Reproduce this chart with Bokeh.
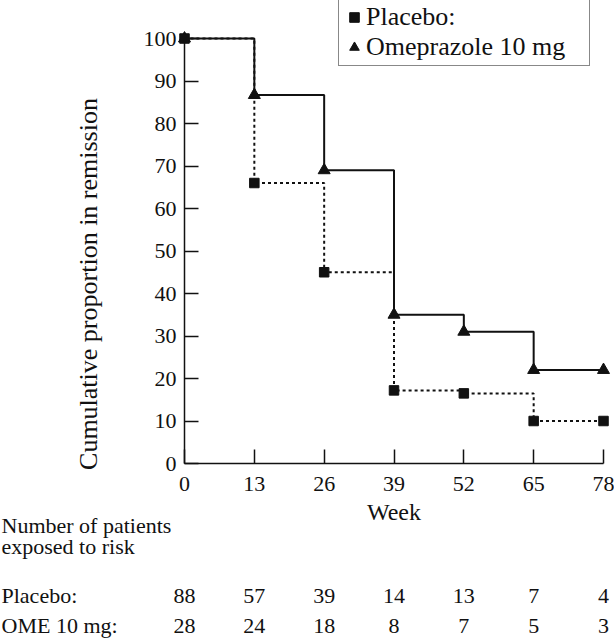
import math
from bokeh.plotting import figure
from bokeh.models import Range1d, FixedTicker, Legend, LegendItem
from bokeh.core.properties import value
from bokeh.embed import file_html
from bokeh.resources import INLINE

# ---------------- data ----------------
weeks = [0, 13, 26, 39, 52, 65, 78]
placebo_pct = [100, 66, 45, 17.2, 16.5, 10, 10]
ome_pct = [100, 86.7, 69, 35, 31, 22, 22]
placebo_risk = [88, 57, 39, 14, 13, 7, 4]
ome_risk = [28, 24, 18, 8, 7, 5, 3]
y_ticks = [0, 10, 20, 30, 40, 50, 60, 70, 80, 90, 100]

series_labels = ["Placebo:", "Omeprazole 10 mg"]
table_title = ["Number of patients", "exposed to risk"]
row_labels = ["Placebo:", "OME 10 mg:"]
x_label = "Week"
y_label = "Cumulative proportion in remission"

# ---------------- layout geometry (canvas pixels) ----------------
W, H = 614, 640
ORIGIN_X, ORIGIN_Y = 184, 463      # canvas position of (week 0, 0 %)
PX_X = 419 / 78                    # pixels per week
PX_Y = 425 / 100                   # pixels per percent
TXT = 8                            # text glyph baseline compensation


def dx(px):
    return (px - ORIGIN_X) / PX_X


def dy(py):
    return (ORIGIN_Y - py) / PX_Y


FONT = "Liberation Serif"
INK = "#111111"

p = figure(width=W, height=H,
           x_range=Range1d(dx(0), dx(W)), y_range=Range1d(dy(H), dy(0)),
           output_backend="svg", toolbar_location=None,
           min_border=0, outline_line_color=None,
           background_fill_color="white", border_fill_color="white")
p.grid.visible = False

# axes drawn at the data origin
p.xaxis.fixed_location = 0
p.yaxis.fixed_location = 0
p.xaxis.bounds = (0, 78)
p.yaxis.bounds = (0, 100)
p.xaxis.ticker = FixedTicker(ticks=weeks)
p.yaxis.ticker = FixedTicker(ticks=y_ticks)
for ax in (p.xaxis, p.yaxis):
    ax.major_tick_in = 14
    ax.major_tick_out = 0
    ax.minor_tick_line_color = None
    ax.axis_line_width = 1.5
    ax.axis_line_color = INK
    ax.major_tick_line_width = 1.5
    ax.major_tick_line_color = INK
    ax.major_label_text_font = FONT
    ax.major_label_text_font_size = "22px"
    ax.major_label_text_color = INK
p.xaxis.major_label_standoff = 13
p.yaxis.major_label_standoff = 8

# survival steps
p.step(weeks, placebo_pct, mode="after", line_color=INK, line_width=2, line_dash="3 3")
p.step(weeks, ome_pct, mode="after", line_color=INK, line_width=2)
tri = p.scatter(weeks, ome_pct, marker="triangle", size=12, color=INK)
sq = p.scatter(weeks, placebo_pct, marker="square", size=9.5, color=INK)

# axis titles
p.text(x=[dx(96 - TXT)], y=[dy(283.5)], text=[y_label], angle=math.pi / 2,
       text_font=value(FONT), text_font_size=value("26px"), text_color=INK,
       text_align="center", text_baseline="alphabetic")
p.text(x=[39], y=[dy(519 - TXT)], text=[x_label],
       text_font=value(FONT), text_font_size=value("24px"), text_color=INK,
       text_align="center", text_baseline="alphabetic")

# number-at-risk table
p.text(x=[dx(1), dx(1)], y=[dy(533 - TXT), dy(554 - TXT)], text=table_title,
       text_font=value(FONT), text_font_size=value("22px"), text_color=INK,
       text_align="left", text_baseline="alphabetic")
p.text(x=[dx(1), dx(1)], y=[dy(603 - TXT), dy(633 - TXT)], text=row_labels,
       text_font=value(FONT), text_font_size=value("22px"), text_color=INK,
       text_align="left", text_baseline="alphabetic")
p.text(x=weeks, y=[dy(603 - TXT)] * len(weeks), text=[str(v) for v in placebo_risk],
       text_font=value(FONT), text_font_size=value("22px"), text_color=INK,
       text_align="center", text_baseline="alphabetic")
p.text(x=weeks, y=[dy(633 - TXT)] * len(weeks), text=[str(v) for v in ome_risk],
       text_font=value(FONT), text_font_size=value("22px"), text_color=INK,
       text_align="center", text_baseline="alphabetic")

legend = Legend(items=[LegendItem(label=series_labels[0], renderers=[sq]),
                       LegendItem(label=series_labels[1], renderers=[tri])],
                location=(338, H - 66), margin=0, padding=3, spacing=-8,
                glyph_width=24, glyph_height=24, label_standoff=0, label_width=220,
                label_text_font=FONT, label_text_font_size="26px", label_text_color=INK,
                border_line_color=INK, border_line_width=1.5,
                background_fill_color="white", background_fill_alpha=1.0)
p.add_layout(legend)

open("out.html", "w").write(file_html(p, INLINE))
